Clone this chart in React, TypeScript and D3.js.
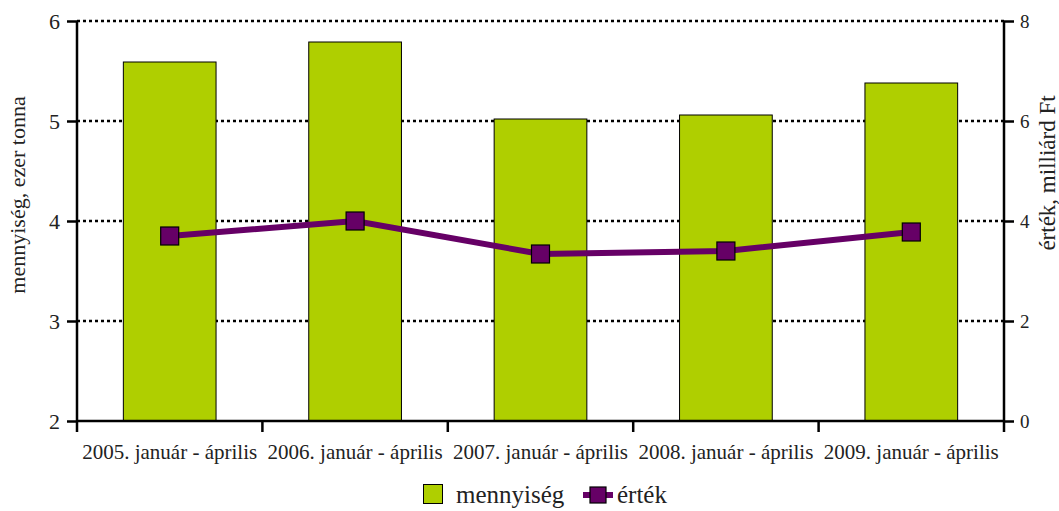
import { useEffect, useRef } from 'react';
import * as d3 from 'd3';

const categories = [
  '2005. január - április',
  '2006. január - április',
  '2007. január - április',
  '2008. január - április',
  '2009. január - április',
];
const mennyiseg = [5.59, 5.79, 5.02, 5.06, 5.38];
const ertek = [3.7, 4.0, 3.34, 3.4, 3.78];
const leftTicks = [2, 3, 4, 5, 6];
const rightTicks = [0, 2, 4, 6, 8];

const BAR = '#AFCF00';
const LINE = '#660066';
const FONT = 'Liberation Serif, Times New Roman, DejaVu Serif, serif';

export default function App() {
  const svgRef = useRef<SVGSVGElement>(null);

  useEffect(() => {
    const width = 1059, height = 511;
    const margin = { top: 21, right: 55, bottom: 90, left: 77 };
    const W = width - margin.left - margin.right;
    const H = height - margin.top - margin.bottom;

    const svg = d3.select(svgRef.current);
    svg.selectAll('*').remove();
    svg.attr('width', width).attr('height', height);

    const g = svg.append('g').attr('transform', `translate(${margin.left},${margin.top})`);

    const x = d3.scaleBand().domain(categories).range([0, W]).paddingInner(0.5).paddingOuter(0.25);
    const xb = d3.scaleBand().domain(categories).range([0, W]);
    const yL = d3.scaleLinear().domain([2, 6]).range([H, 0]);
    const yR = d3.scaleLinear().domain([0, 8]).range([H, 0]);

    // gridlines
    g.append('g').selectAll('line').data(leftTicks.filter(t => t > 2)).enter().append('line')
      .attr('x1', 0).attr('x2', W)
      .attr('y1', d => yL(d)).attr('y2', d => yL(d))
      .attr('stroke', '#000').attr('stroke-width', 2.5).attr('stroke-dasharray', '3,3');

    // bars
    g.append('g').selectAll('rect').data(categories).enter().append('rect')
      .attr('x', d => x(d)!)
      .attr('width', x.bandwidth())
      .attr('y', (_, i) => yL(mennyiseg[i]))
      .attr('height', (_, i) => H - yL(mennyiseg[i]))
      .attr('fill', BAR).attr('stroke', '#000').attr('stroke-width', 1);

    // left axis
    const la = g.append('g').call(d3.axisLeft(yL).tickValues(leftTicks).tickFormat(d3.format('d')).tickSize(10).tickSizeOuter(0).tickPadding(7));
    la.attr('font-family', FONT);
    la.select('.domain').remove();
    la.selectAll('line').attr('stroke-width', 2.5);
    la.selectAll('text').attr('font-size', 22).attr('fill', '#222');
    g.append('line').attr('x1', 0).attr('x2', 0).attr('y1', 0).attr('y2', H + 11)
      .attr('stroke', '#000').attr('stroke-width', 2.5);

    // right axis
    const ra = g.append('g').attr('transform', `translate(${W},0)`)
      .call(d3.axisRight(yR).tickValues(rightTicks).tickFormat(d3.format('d')).tickSize(10).tickSizeOuter(0).tickPadding(6));
    ra.attr('font-family', FONT);
    ra.select('.domain').remove();
    ra.selectAll('line').attr('stroke-width', 2.5);
    ra.selectAll('text').attr('font-size', 19).attr('fill', '#222');
    g.append('line').attr('x1', W).attr('x2', W).attr('y1', 0).attr('y2', H + 11)
      .attr('stroke', '#000').attr('stroke-width', 2.5);

    // bottom axis
    g.append('line').attr('x1', 0).attr('x2', W).attr('y1', H).attr('y2', H)
      .attr('stroke', '#000').attr('stroke-width', 2.5);
    g.append('g').selectAll('line').data(categories.slice(1)).enter().append('line')
      .attr('x1', d => xb(d)!).attr('x2', d => xb(d)!)
      .attr('y1', H).attr('y2', H + 11)
      .attr('stroke', '#000').attr('stroke-width', 2.5);
    g.append('g').selectAll('text').data(categories).enter().append('text')
      .attr('x', d => xb(d)! + xb.bandwidth() / 2)
      .attr('y', H + 38)
      .attr('text-anchor', 'middle')
      .attr('font-family', FONT).attr('font-size', 21).attr('fill', '#222')
      .text(d => d);

    // line series
    const line = d3.line<number>()
      .x((_, i) => xb(categories[i])! + xb.bandwidth() / 2)
      .y(d => yR(d));
    g.append('path').datum(ertek).attr('d', line)
      .attr('fill', 'none').attr('stroke', LINE).attr('stroke-width', 6);
    g.append('g').selectAll('rect').data(ertek).enter().append('rect')
      .attr('x', (_, i) => xb(categories[i])! + xb.bandwidth() / 2 - 9)
      .attr('y', d => yR(d) - 9)
      .attr('width', 18).attr('height', 18)
      .attr('fill', LINE).attr('stroke', '#000').attr('stroke-width', 1.2);

    // axis titles
    svg.append('text')
      .attr('transform', `translate(25,195) rotate(-90)`)
      .attr('text-anchor', 'middle').attr('font-family', FONT).attr('font-size', 22).attr('fill', '#222')
      .text('mennyiség, ezer tonna');
    svg.append('text')
      .attr('transform', `translate(1055,173) rotate(-90)`)
      .attr('text-anchor', 'middle').attr('font-family', FONT).attr('font-size', 23).attr('fill', '#222')
      .text('érték, milliárd Ft');

    // legend
    const lg = svg.append('g').attr('font-family', FONT);
    lg.append('rect').attr('x', 423.5).attr('y', 484.5).attr('width', 19).attr('height', 19)
      .attr('fill', BAR).attr('stroke', '#000').attr('stroke-width', 1);
    lg.append('text').attr('x', 456).attr('y', 503).attr('font-size', 25).attr('fill', '#222').text('mennyiség');
    lg.append('line').attr('x1', 583).attr('x2', 613).attr('y1', 495).attr('y2', 495)
      .attr('stroke', LINE).attr('stroke-width', 6);
    lg.append('rect').attr('x', 590).attr('y', 487).attr('width', 16).attr('height', 16)
      .attr('fill', LINE).attr('stroke', '#000').attr('stroke-width', 1.2);
    lg.append('text').attr('x', 617).attr('y', 503).attr('font-size', 25).attr('fill', '#222').text('érték');
  }, []);

  return (
    <div style={{ position: 'absolute', left: 0, top: 0, width: 1059, height: 511, background: '#fff' }}>
      <svg ref={svgRef} style={{ display: 'block' }} />
    </div>
  );
}
